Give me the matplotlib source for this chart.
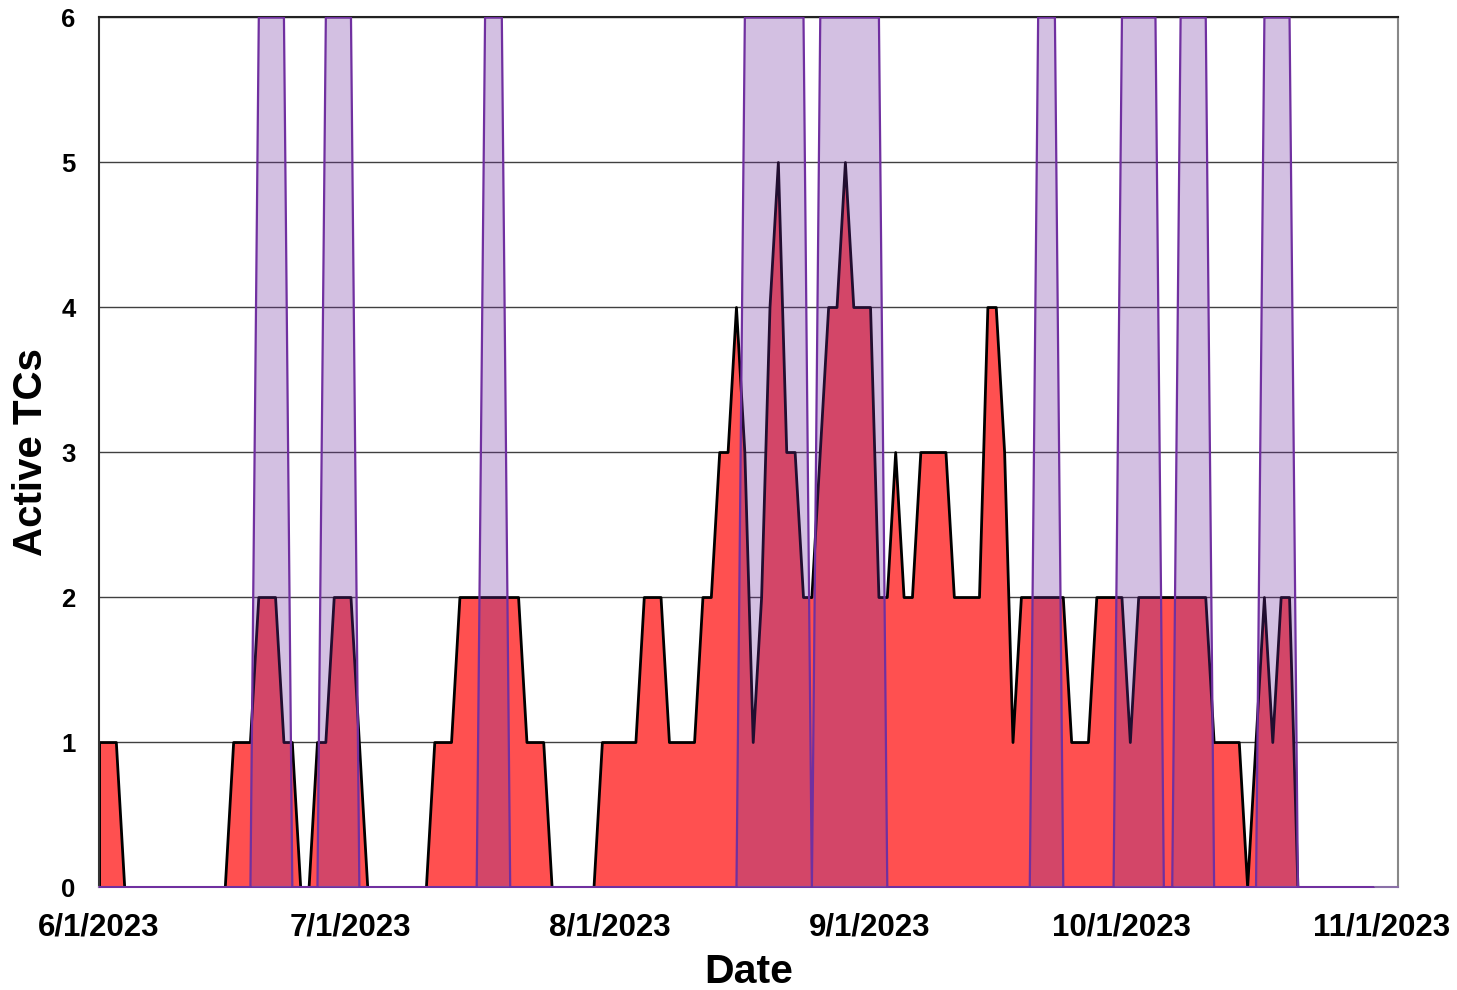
#plot.py
#===========================================================================================
#Librerias
#===========================================================================================
import matplotlib
matplotlib.use('Agg')
import matplotlib.pyplot as plt
import matplotlib.dates as mdates
from matplotlib.ticker import FuncFormatter
import pandas as pd

plt.rcParams['font.family'] = ['Liberation Sans', 'DejaVu Sans']
plt.rcParams['font.weight'] = 'bold'

#===========================================================================================
#Datos: ciclones tropicales activos por dia (6/1/2023 - 10/31/2023)
#===========================================================================================
tc_junio = [1, 1, 1, 0, 0, 0, 0, 0, 0, 0, 0, 0, 0, 0, 0, 0, 1, 1, 1, 2,
            2, 2, 1, 1, 0, 0, 1, 1, 2, 2]
tc_julio = [2, 1, 0, 0, 0, 0, 0, 0, 0, 0, 1, 1, 1, 2, 2, 2, 2, 2, 2, 2,
            2, 1, 1, 1, 0, 0, 0, 0, 0, 0, 1]
tc_agosto = [1, 1, 1, 1, 2, 2, 2, 1, 1, 1, 1, 2, 2, 3, 3, 4, 3, 1, 2, 4,
             5, 3, 3, 2, 2, 3, 4, 4, 5, 4, 4]
tc_septiembre = [4, 2, 2, 3, 2, 2, 3, 3, 3, 3, 2, 2, 2, 2, 4, 4, 3, 1, 2, 2,
                 2, 2, 2, 2, 1, 1, 1, 2, 2, 2]
tc_octubre = [2, 1, 2, 2, 2, 2, 2, 2, 2, 2, 2, 1, 1, 1, 1, 0, 1, 2, 1, 2,
              2, 0, 0, 0, 0, 0, 0, 0, 0, 0, 0]

#Periodos sombreados (morado)
sombra_junio = [0, 0, 0, 0, 0, 0, 0, 0, 0, 0, 0, 0, 0, 0, 0, 0, 0, 0, 0, 6,
                6, 6, 6, 0, 0, 0, 0, 6, 6, 6]
sombra_julio = [6, 0, 0, 0, 0, 0, 0, 0, 0, 0, 0, 0, 0, 0, 0, 0, 6, 6, 6, 0,
                0, 0, 0, 0, 0, 0, 0, 0, 0, 0, 0]
sombra_agosto = [0, 0, 0, 0, 0, 0, 0, 0, 0, 0, 0, 0, 0, 0, 0, 0, 6, 6, 6, 6,
                 6, 6, 6, 6, 0, 6, 6, 6, 6, 6, 6]
sombra_septiembre = [6, 6, 0, 0, 0, 0, 0, 0, 0, 0, 0, 0, 0, 0, 0, 0, 0, 0, 0, 0,
                     6, 6, 6, 0, 0, 0, 0, 0, 0, 0]
sombra_octubre = [6, 6, 6, 6, 6, 0, 0, 6, 6, 6, 6, 0, 0, 0, 0, 0, 0, 6, 6, 6,
                  6, 0, 0, 0, 0, 0, 0, 0, 0, 0, 0]

tc_activos = tc_junio + tc_julio + tc_agosto + tc_septiembre + tc_octubre
sombra = sombra_junio + sombra_julio + sombra_agosto + sombra_septiembre + sombra_octubre
fechas = pd.date_range('2023-06-01', periods=len(tc_activos), freq='D')

etiquetas_x = ['2023-06-01', '2023-07-01', '2023-08-01', '2023-09-01',
               '2023-10-01', '2023-11-01']

#===========================================================================================
#Grafica
#===========================================================================================
fig = plt.figure(figsize=(14.57, 9.9), dpi=100)
ax = fig.add_axes([0.068, 0.104, 0.8915, 0.8788])

ax.set_axisbelow(True)
ax.grid(axis='y', color='#404040', linewidth=1)

ax.fill_between(fechas, tc_activos, 0, facecolor='#FF5050',
                edgecolor='black', linewidth=2, zorder=2)
ax.fill_between(fechas, sombra, 0, facecolor=(112/255, 48/255, 160/255, 0.3),
                edgecolor='#7030A0', linewidth=1.6, zorder=3)

ax.set_ylim(0, 6)
ax.set_xlim(pd.Timestamp('2023-06-01'), pd.Timestamp('2023-11-03'))
ax.set_yticks(range(0, 7))

ax.set_xticks([mdates.date2num(pd.Timestamp(d)) for d in etiquetas_x])
ax.xaxis.set_major_formatter(FuncFormatter(
    lambda v, pos: f"{mdates.num2date(v).month}/{mdates.num2date(v).day}/{mdates.num2date(v).year}"))

ax.tick_params(axis='y', length=0, pad=17, labelsize=18.5)
ax.tick_params(axis='x', length=0, pad=18, labelsize=22.5)
for lab in ax.get_xticklabels() + ax.get_yticklabels():
    lab.set_fontweight('bold')

ax.set_xlabel('Date', fontsize=29.5, fontweight='bold', labelpad=8)
ax.set_ylabel('Active TCs', fontsize=29, fontweight='bold', labelpad=8)

ax.spines['top'].set_color('#222222')
ax.spines['left'].set_color('#333333')
ax.spines['right'].set_color('#888888')
ax.spines['bottom'].set_color('#8a70a8')
for s in ax.spines.values():
    s.set_linewidth(1.5)

plt.savefig('out.png', dpi=100)
